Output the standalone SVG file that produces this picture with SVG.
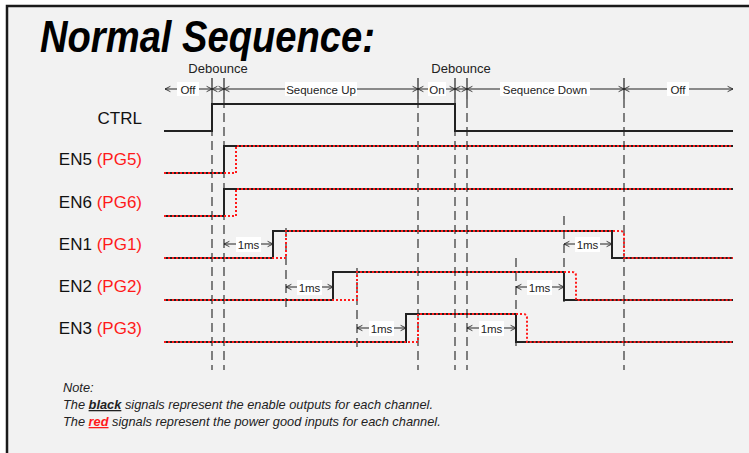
<svg xmlns="http://www.w3.org/2000/svg" width="749" height="453" viewBox="0 0 749 453">
<defs>
<marker id="chev" viewBox="0 0 10 10" refX="10" refY="5" markerWidth="6" markerHeight="8" markerUnits="userSpaceOnUse" orient="auto-start-reverse">
<path d="M1,0.5 L10,5 L1,9.5" fill="none" stroke="#222" stroke-width="1.4"/>
</marker>
<style>
.lbl{font-family:"Liberation Sans",Arial,sans-serif;font-size:17px;fill:#111;text-anchor:end}
.red{fill:#ff1a1a}
.sm{font-family:"Liberation Sans",Arial,sans-serif;font-size:11.5px;fill:#222;text-anchor:middle}
.hdr{font-family:"Liberation Sans",Arial,sans-serif;font-size:13px;fill:#222;text-anchor:middle}
.note{font-family:"Liberation Sans",Arial,sans-serif;font-size:12.8px;font-style:italic;fill:#222}
.dash{stroke:#333;stroke-width:1.2;stroke-dasharray:9 5;fill:none}
.dim{stroke:#222;stroke-width:1;fill:none;marker-start:url(#chev);marker-end:url(#chev)}
.tick{stroke:#222;stroke-width:1.2}
.bk{stroke:#222;stroke-width:2;fill:none}
.pg{stroke:#ff1a1a;stroke-width:2;stroke-dasharray:2 2;fill:none}
.wb{fill:#fff}
</style>
</defs>
<rect x="0" y="0" width="749" height="453" fill="#fff"/>
<rect x="7" y="6" width="742" height="447" fill="#f2f2f2"/>
<path d="M7,453 V6 H749" fill="none" stroke="#1a1a1a" stroke-width="2.5"/>

<text x="40" y="52" font-family="Liberation Sans,Arial,sans-serif" font-size="44" font-weight="bold" font-style="italic" fill="#000" textLength="335" lengthAdjust="spacingAndGlyphs">Normal Sequence:</text>

<g id="header">
<text class="hdr" x="218" y="73">Debounce</text>
<text class="hdr" x="461" y="73">Debounce</text>
<line class="dim" x1="165" y1="89" x2="212" y2="89"/>
<line class="dim" x1="212" y1="89" x2="224" y2="89"/>
<line class="dim" x1="224" y1="89" x2="418" y2="89"/>
<line class="dim" x1="418" y1="89" x2="455" y2="89"/>
<line class="dim" x1="455" y1="89" x2="467" y2="89"/>
<line class="dim" x1="467" y1="89" x2="624" y2="89"/>
<line x1="624" y1="89" x2="733" y2="89" stroke="#222" stroke-width="1" marker-start="url(#chev)" marker-end="url(#chev)"/>
<g class="tick">
<line x1="212" y1="78" x2="212" y2="99"/>
<line x1="224" y1="78" x2="224" y2="99"/>
<line x1="418" y1="78" x2="418" y2="99"/>
<line x1="455" y1="78" x2="455" y2="99"/>
<line x1="467" y1="78" x2="467" y2="99"/>
<line x1="624" y1="78" x2="624" y2="99"/>
</g>
<rect class="wb" x="177" y="82" width="22" height="14"/>
<text class="sm" x="188" y="93.5">Off</text>
<rect class="wb" x="285" y="82" width="72" height="14"/>
<text class="sm" x="321" y="93.5">Sequence Up</text>
<rect class="wb" x="428" y="82" width="18" height="14"/>
<text class="sm" x="437" y="93.5">On</text>
<rect class="wb" x="500" y="82" width="90" height="14"/>
<text class="sm" x="545" y="93.5">Sequence Down</text>
<rect class="wb" x="667" y="82" width="22" height="14"/>
<text class="sm" x="678" y="93.5">Off</text>
</g>

<g id="guides">
<line class="dash" x1="212" y1="99" x2="212" y2="370"/>
<line class="dash" x1="224" y1="99" x2="224" y2="370"/>
<line class="dash" x1="418" y1="99" x2="418" y2="370"/>
<line class="dash" x1="455" y1="99" x2="455" y2="370"/>
<line class="dash" x1="467" y1="99" x2="467" y2="370"/>
<line class="dash" x1="624" y1="99" x2="624" y2="370"/>
<line class="dash" x1="286" y1="228" x2="286" y2="312"/>
<line class="dash" x1="357" y1="268" x2="357" y2="352"/>
<line class="dash" x1="564" y1="216" x2="564" y2="302"/>
<line class="dash" x1="516" y1="258" x2="516" y2="346"/>
</g>

<g id="labels">
<text class="lbl" x="142" y="124">CTRL</text>
<text class="lbl" x="142" y="165">EN5 <tspan class="red">(PG5)</tspan></text>
<text class="lbl" x="142" y="208">EN6 <tspan class="red">(PG6)</tspan></text>
<text class="lbl" x="142" y="250">EN1 <tspan class="red">(PG1)</tspan></text>
<text class="lbl" x="142" y="292">EN2 <tspan class="red">(PG2)</tspan></text>
<text class="lbl" x="142" y="334">EN3 <tspan class="red">(PG3)</tspan></text>
</g>

<g id="CTRL">
<path class="bk" d="M164,131 H212 V104 H455 V131 H733"/>
</g>
<g id="EN5">
<path class="bk" d="M164,173 H224 V146 H733"/>
<path class="pg" d="M164,173 H236 V146 H733"/>
</g>
<g id="EN6">
<path class="bk" d="M164,216 H224 V189 H733"/>
<path class="pg" d="M164,216 H236 V189 H733"/>
</g>
<g id="EN1">
<path class="bk" d="M164,258 H273 V231 H612 V258 H733"/>
<path class="pg" d="M164,258 H286 V231 H620 Q624,231 624,235 V258 H733"/>
</g>
<g id="EN2">
<path class="bk" d="M164,300 H333 V272 H564 V300 H733"/>
<path class="pg" d="M164,300 H357 V272 H572 Q576,272 576,276 V300 H733"/>
</g>
<g id="EN3">
<path class="bk" d="M164,342 H406 V314 H516 V342 H733"/>
<path class="pg" d="M164,342 H418 V314 H523 Q527,314 527,318 V342 H733"/>
</g>

<g id="delays">
<line class="dim" x1="224" y1="244" x2="273" y2="244"/>
<rect class="wb" x="236" y="237" width="25" height="15"/>
<text class="sm" x="248.5" y="248.5">1ms</text>
<line class="dim" x1="286" y1="287" x2="333" y2="287"/>
<rect class="wb" x="297" y="280" width="25" height="15"/>
<text class="sm" x="309.5" y="291.5">1ms</text>
<line class="dim" x1="357" y1="328" x2="406" y2="328"/>
<rect class="wb" x="369" y="321" width="25" height="15"/>
<text class="sm" x="381.5" y="332.5">1ms</text>
<line class="dim" x1="467" y1="328" x2="516" y2="328"/>
<rect class="wb" x="479" y="321" width="25" height="15"/>
<text class="sm" x="491.5" y="332.5">1ms</text>
<line class="dim" x1="516" y1="287" x2="564" y2="287"/>
<rect class="wb" x="527" y="280" width="25" height="15"/>
<text class="sm" x="539.5" y="291.5">1ms</text>
<line class="dim" x1="564" y1="244" x2="612" y2="244"/>
<rect class="wb" x="575" y="237" width="25" height="15"/>
<text class="sm" x="587.5" y="248.5">1ms</text>
</g>

<g id="note">
<text class="note" x="63" y="392">Note:</text>
<text class="note" x="63" y="409">The <tspan font-weight="bold" text-decoration="underline">black</tspan> signals represent the enable outputs for each channel.</text>
<text class="note" x="63" y="426">The <tspan font-weight="bold" text-decoration="underline" fill="#ff1a1a">red</tspan> signals represent the power good inputs for each channel.</text>
</g>
</svg>
